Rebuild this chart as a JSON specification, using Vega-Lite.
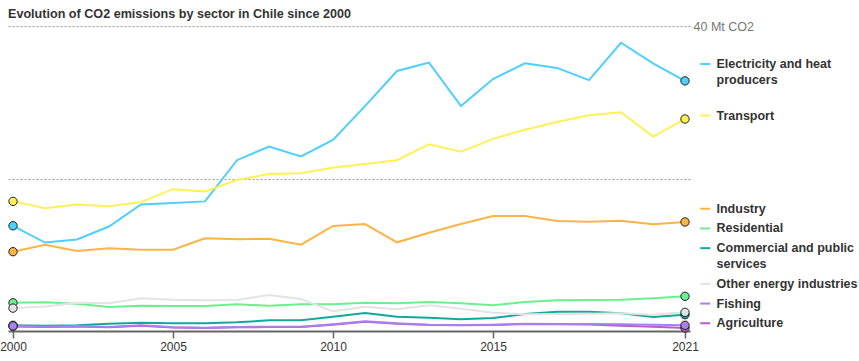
{
  "$schema": "https://vega.github.io/schema/vega-lite/v6.json",
  "width": 682,
  "height": 305,
  "autosize": "none",
  "padding": {"left": 8, "top": 26, "right": 169, "bottom": 30},
  "background": "white",
  "title": {"text": "Evolution of CO2 emissions by sector in Chile since 2000", "anchor": "start", "frame": "group", "fontSize": 12.6, "font": "Liberation Sans", "fontWeight": "bold", "color": "#333333", "baseline": "alphabetic", "offset": -10.5},
  "config": {"view": {"stroke": null}, "font": "Liberation Sans", "style": {"guide-label": {"lineHeight": 15.5}}},
  "data": {"values": [
    {"year": 2000, "Electricity and heat producers": 13.8, "Transport": 17.0, "Industry": 10.4, "Residential": 3.7, "Commercial and public services": 0.75, "Other energy industries": 3.0, "Agriculture": 0.6, "Fishing": 0.66},
    {"year": 2001, "Electricity and heat producers": 11.6, "Transport": 16.1, "Industry": 11.3, "Residential": 3.76, "Commercial and public services": 0.7, "Other energy industries": 3.2, "Agriculture": 0.53, "Fishing": 0.56},
    {"year": 2002, "Electricity and heat producers": 12.0, "Transport": 16.6, "Industry": 10.5, "Residential": 3.58, "Commercial and public services": 0.75, "Other energy industries": 3.7, "Agriculture": 0.6, "Fishing": 0.66},
    {"year": 2003, "Electricity and heat producers": 13.7, "Transport": 16.35, "Industry": 10.85, "Residential": 3.15, "Commercial and public services": 0.96, "Other energy industries": 3.63, "Agriculture": 0.48, "Fishing": 0.52},
    {"year": 2004, "Electricity and heat producers": 16.6, "Transport": 16.9, "Industry": 10.66, "Residential": 3.32, "Commercial and public services": 1.09, "Other energy industries": 4.29, "Agriculture": 0.7, "Fishing": 0.75},
    {"year": 2005, "Electricity and heat producers": 16.8, "Transport": 18.6, "Industry": 10.66, "Residential": 3.28, "Commercial and public services": 1.01, "Other energy industries": 4.1, "Agriculture": 0.45, "Fishing": 0.49},
    {"year": 2006, "Electricity and heat producers": 17.0, "Transport": 18.3, "Industry": 12.16, "Residential": 3.28, "Commercial and public services": 1.01, "Other energy industries": 4.03, "Agriculture": 0.4, "Fishing": 0.43},
    {"year": 2007, "Electricity and heat producers": 22.4, "Transport": 19.8, "Industry": 12.03, "Residential": 3.5, "Commercial and public services": 1.14, "Other energy industries": 4.07, "Agriculture": 0.48, "Fishing": 0.52},
    {"year": 2008, "Electricity and heat producers": 24.2, "Transport": 20.6, "Industry": 12.1, "Residential": 3.32, "Commercial and public services": 1.4, "Other energy industries": 4.72, "Agriculture": 0.52, "Fishing": 0.56},
    {"year": 2009, "Electricity and heat producers": 22.9, "Transport": 20.7, "Industry": 11.32, "Residential": 3.5, "Commercial and public services": 1.4, "Other energy industries": 4.2, "Agriculture": 0.52, "Fishing": 0.56},
    {"year": 2010, "Electricity and heat producers": 25.05, "Transport": 21.4, "Industry": 13.77, "Residential": 3.5, "Commercial and public services": 1.88, "Other energy industries": 2.58, "Agriculture": 0.83, "Fishing": 0.88},
    {"year": 2011, "Electricity and heat producers": 29.5, "Transport": 21.9, "Industry": 14.03, "Residential": 3.71, "Commercial and public services": 2.36, "Other energy industries": 3.19, "Agriculture": 1.2, "Fishing": 1.27},
    {"year": 2012, "Electricity and heat producers": 34.1, "Transport": 22.4, "Industry": 11.63, "Residential": 3.63, "Commercial and public services": 1.88, "Other energy industries": 2.85, "Agriculture": 0.95, "Fishing": 1.01},
    {"year": 2013, "Electricity and heat producers": 35.2, "Transport": 24.5, "Industry": 12.89, "Residential": 3.8, "Commercial and public services": 1.74, "Other energy industries": 3.37, "Agriculture": 0.8, "Fishing": 0.83},
    {"year": 2014, "Electricity and heat producers": 29.5, "Transport": 23.5, "Industry": 14.03, "Residential": 3.63, "Commercial and public services": 1.53, "Other energy industries": 2.92, "Agriculture": 0.75, "Fishing": 0.79},
    {"year": 2015, "Electricity and heat producers": 33.05, "Transport": 25.2, "Industry": 15.08, "Residential": 3.37, "Commercial and public services": 1.7, "Other energy industries": 2.4, "Agriculture": 0.8, "Fishing": 0.83},
    {"year": 2016, "Electricity and heat producers": 35.1, "Transport": 26.4, "Industry": 15.08, "Residential": 3.8, "Commercial and public services": 2.23, "Other energy industries": 2.19, "Agriculture": 0.92, "Fishing": 0.96},
    {"year": 2017, "Electricity and heat producers": 34.5, "Transport": 27.4, "Industry": 14.43, "Residential": 4.03, "Commercial and public services": 2.53, "Other energy industries": 2.23, "Agriculture": 0.88, "Fishing": 0.92},
    {"year": 2018, "Electricity and heat producers": 32.9, "Transport": 28.3, "Industry": 14.33, "Residential": 4.07, "Commercial and public services": 2.53, "Other energy industries": 2.27, "Agriculture": 0.85, "Fishing": 0.92},
    {"year": 2019, "Electricity and heat producers": 37.8, "Transport": 28.7, "Industry": 14.47, "Residential": 4.1, "Commercial and public services": 2.32, "Other energy industries": 2.32, "Agriculture": 0.7, "Fishing": 0.88},
    {"year": 2020, "Electricity and heat producers": 35.1, "Transport": 25.5, "Industry": 13.99, "Residential": 4.29, "Commercial and public services": 1.84, "Other energy industries": 2.14, "Agriculture": 0.55, "Fishing": 0.83},
    {"year": 2021, "Electricity and heat producers": 32.8, "Transport": 27.8, "Industry": 14.3, "Residential": 4.55, "Commercial and public services": 2.14, "Other energy industries": 2.45, "Agriculture": 0.4, "Fishing": 0.75}
  ]},
  "transform": [
    {"fold": ["Electricity and heat producers", "Transport", "Industry", "Residential", "Commercial and public services", "Other energy industries", "Agriculture", "Fishing"], "as": ["sector", "value"]}
  ],
  "encoding": {
    "x": {"field": "year", "type": "quantitative", "scale": {"domain": [2000, 2021], "padding": 5, "nice": false, "zero": false},
      "axis": {"title": null, "values": [2000, 2005, 2010, 2015, 2021], "format": "d", "grid": false, "domainColor": "#666666", "domainWidth": 2, "tickColor": "#666666", "tickWidth": 1.5, "tickSize": 7, "labelPadding": 3, "labelFontSize": 12, "labelColor": "#333333", "labelFont": "Liberation Sans"}},
    "y": {"field": "value", "type": "quantitative", "scale": {"domain": [0, 40], "nice": false},
      "axis": {"title": null, "orient": "right", "values": [20, 40], "labelExpr": "datum.value == 40 ? '40 Mt CO2' : ''", "grid": true, "gridDash": [2, 2], "gridColor": "#9a9a9a", "gridWidth": 1, "domain": false, "ticks": false, "labelPadding": 3, "labelFontSize": 12.5, "labelColor": "#777777", "labelFont": "Liberation Sans"}}
  },
  "layer": [
    {
      "transform": [{"filter": {"field": "sector", "oneOf": ["Electricity and heat producers", "Transport"]}}],
      "mark": {"type": "line", "strokeWidth": 2},
      "encoding": {
        "stroke": {"field": "sector", "type": "nominal",
          "scale": {"domain": ["Electricity and heat producers", "Transport"], "range": ["#4dcfff", "#fff152"]},
          "legend": {"orient": "none", "legendX": 691, "legendY": 31.75, "title": null, "padding": 0, "symbolType": "stroke", "symbolSize": 100, "symbolStrokeWidth": 2, "labelOffset": 5, "labelFontSize": 12.5, "labelFont": "Liberation Sans", "labelFontWeight": "bold", "labelColor": "#333333", "labelLimit": 200, "rowPadding": 22.5,
            "labelExpr": "datum.label == 'Electricity and heat producers' ? ['Electricity and heat', 'producers'] : datum.label"}}
      }
    },
    {
      "transform": [{"filter": {"not": {"field": "sector", "oneOf": ["Electricity and heat producers", "Transport"]}}}],
      "mark": {"type": "line", "strokeWidth": 2},
      "encoding": {
        "color": {"field": "sector", "type": "nominal",
          "scale": {"domain": ["Industry", "Residential", "Commercial and public services", "Other energy industries", "Fishing", "Agriculture"], "range": ["#ffb347", "#6bef8f", "#13a89e", "#e3e3e3", "#a97ff2", "#b55fc0"]},
          "legend": {"orient": "none", "legendX": 691, "legendY": 176.5, "title": null, "padding": 0, "symbolType": "stroke", "symbolSize": 100, "symbolStrokeWidth": 2, "labelOffset": 5, "labelFontSize": 12.5, "labelFont": "Liberation Sans", "labelFontWeight": "bold", "labelColor": "#333333", "labelLimit": 200, "rowPadding": 6.7,
            "labelExpr": "datum.label == 'Commercial and public services' ? ['Commercial and public', 'services'] : datum.label"}}
      }
    },
    {
      "transform": [{"filter": "datum.year == 2000 || datum.year == 2021"}],
      "mark": {"type": "point", "filled": true, "size": 70, "stroke": "#222222", "strokeWidth": 1, "opacity": 1},
      "encoding": {
        "fill": {"field": "sector", "type": "nominal",
          "scale": {"domain": ["Electricity and heat producers", "Transport", "Industry", "Residential", "Commercial and public services", "Other energy industries", "Fishing", "Agriculture"], "range": ["#4dcfff", "#fff152", "#ffb347", "#6bef8f", "#13a89e", "#e3e3e3", "#a97ff2", "#b55fc0"]},
          "legend": null}
      }
    }
  ]
}
